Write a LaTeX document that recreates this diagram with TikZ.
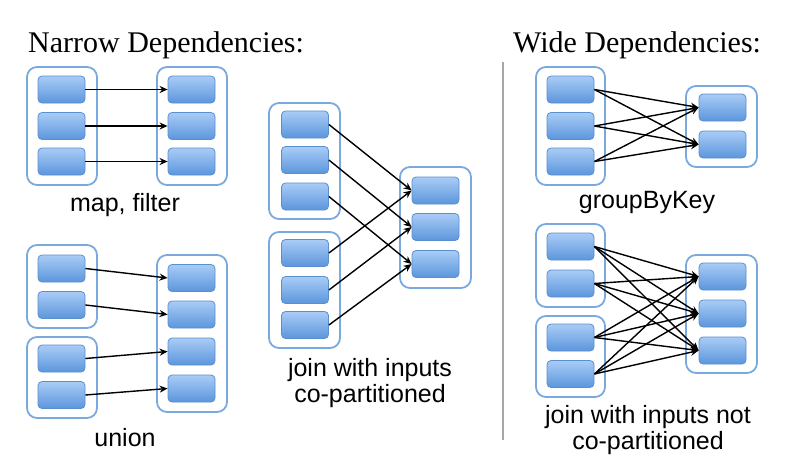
\documentclass[tikz,border=0pt]{standalone}
\usepackage{fontspec}
\setmainfont{Liberation Serif}
\newfontfamily\labelfont{Liberation Sans}
\usetikzlibrary{arrows.meta}

\definecolor{parttop}{HTML}{A9CCF6}
\definecolor{partbot}{HTML}{5C96DC}
\definecolor{partline}{HTML}{5A8FCE}
\definecolor{rddline}{HTML}{7AA9DE}

\begin{document}
\begin{tikzpicture}[x=1pt,y=-1pt]
\tikzset{part/.style={shape=rectangle,draw=partline,line width=0.8pt,rounded corners=4pt,top color=parttop,bottom color=partbot,minimum width=47pt,minimum height=27pt,inner sep=0pt}}
\tikzset{rdd/.style={shape=rectangle,draw=rddline,line width=1.8pt,rounded corners=10pt,fill=white,minimum width=70pt,inner sep=0pt}}
\tikzset{dep/.style={-{Stealth[length=8pt,width=7pt]},line width=1.4pt,black}}
\tikzset{caption/.style={font=\labelfont\fontsize{25}{26}\selectfont,align=center,inner sep=0pt}}
\tikzset{heading/.style={font=\fontsize{30}{32}\selectfont,anchor=west,inner sep=0pt}}
\useasboundingbox (0,0) rectangle (785,469);
%
\node at (28,45) [heading] (narrowtitle) {Narrow Dependencies:};
\node at (513,45) [heading] (widetitle) {Wide Dependencies:};
\coordinate (septop) at (503,62);
\coordinate (sepbot) at (503,440);
\draw[gray!70,line width=1.5pt] (septop) -- (sepbot);
%
% map, filter
\node at (62,126) [rdd,minimum height=118pt] (mapin) {};
\node at (192,126) [rdd,minimum height=118pt] (mapout) {};
\node at (61.5,89.5) [part] (mapin1) {};
\node at (61.5,126) [part] (mapin2) {};
\node at (61.5,161.5) [part] (mapin3) {};
\node at (191.5,89.5) [part] (mapout1) {};
\node at (191.5,126) [part] (mapout2) {};
\node at (191.5,161.5) [part] (mapout3) {};
\draw[dep] (mapin1) -- (mapout1);
\draw[dep] (mapin2) -- (mapout2);
\draw[dep] (mapin3) -- (mapout3);
\node at (125,205) [caption] (maplabel) {map, filter};
%
% union
\node at (62,286.5) [rdd,minimum height=83pt] (unionina) {};
\node at (62,377.5) [rdd,minimum height=81pt] (unioninb) {};
\node at (192,333.5) [rdd,minimum height=157pt] (unionout) {};
\node at (61.5,268.5) [part] (unionina1) {};
\node at (61.5,305) [part] (unionina2) {};
\node at (61.5,358.5) [part] (unioninb1) {};
\node at (61.5,395) [part] (unioninb2) {};
\node at (191.5,278) [part] (unionout1) {};
\node at (191.5,314.5) [part] (unionout2) {};
\node at (191.5,351.5) [part] (unionout3) {};
\node at (191.5,388.5) [part] (unionout4) {};
\draw[dep] (unionina1.east) -- (unionout1.west);
\draw[dep] (unionina2.east) -- (unionout2.west);
\draw[dep] (unioninb1.east) -- (unionout3.west);
\draw[dep] (unioninb2.east) -- (unionout4.west);
\node at (125,438) [caption] (unionlabel) {union};
%
% join with inputs co-partitioned
\node at (304.5,161) [rdd,minimum width=71pt,minimum height=116pt] (cojoina) {};
\node at (304.5,290) [rdd,minimum width=71pt,minimum height=116pt] (cojoinb) {};
\node at (435.5,227.5) [rdd,minimum width=71pt,minimum height=121pt] (cojoinout) {};
\node at (305,124.5) [part] (cojoina1) {};
\node at (305,160) [part] (cojoina2) {};
\node at (305,196.5) [part] (cojoina3) {};
\node at (305,253) [part] (cojoinb1) {};
\node at (305,290) [part] (cojoinb2) {};
\node at (305,325) [part] (cojoinb3) {};
\node at (435.5,190.5) [part] (cojoinout1) {};
\node at (435.5,227) [part] (cojoinout2) {};
\node at (435.5,264) [part] (cojoinout3) {};
\draw[dep] (cojoina1.east) -- (cojoinout1.west);
\draw[dep] (cojoina2.east) -- (cojoinout2.west);
\draw[dep] (cojoina3.east) -- (cojoinout3.west);
\draw[dep] (cojoinb1.east) -- (cojoinout1.west);
\draw[dep] (cojoinb2.east) -- (cojoinout2.west);
\draw[dep] (cojoinb3.east) -- (cojoinout3.west);
\node at (370,383) [caption] (cojoinlabel) {join with inputs\\co-partitioned};
%
% groupByKey
\node at (570.5,126) [rdd,minimum width=69pt,minimum height=118pt] (groupin) {};
\node at (721.5,126.5) [rdd,minimum width=71pt,minimum height=81pt] (groupout) {};
\node at (570.5,89.5) [part] (groupin1) {};
\node at (570.5,126) [part] (groupin2) {};
\node at (570.5,161.5) [part] (groupin3) {};
\node at (722.5,107.5) [part] (groupout1) {};
\node at (722.5,144.5) [part] (groupout2) {};
\draw[dep] (groupin1.east) -- (groupout1.west);
\draw[dep] (groupin1.east) -- (groupout2.west);
\draw[dep] (groupin2.east) -- (groupout1.west);
\draw[dep] (groupin2.east) -- (groupout2.west);
\draw[dep] (groupin3.east) -- (groupout1.west);
\draw[dep] (groupin3.east) -- (groupout2.west);
\node at (647,202) [caption] (grouplabel) {groupByKey};
%
% join with inputs not co-partitioned
\node at (570.5,265.5) [rdd,minimum width=69pt,minimum height=83pt] (joina) {};
\node at (570.5,356.5) [rdd,minimum width=69pt,minimum height=81pt] (joinb) {};
\node at (721.5,314) [rdd,minimum width=71pt,minimum height=118pt] (joinout) {};
\node at (570.5,246.5) [part] (joina1) {};
\node at (570.5,283.5) [part] (joina2) {};
\node at (570.5,337.5) [part] (joinb1) {};
\node at (570.5,374) [part] (joinb2) {};
\node at (722.5,276.5) [part] (joinout1) {};
\node at (722.5,313.5) [part] (joinout2) {};
\node at (722.5,350.5) [part] (joinout3) {};
\draw[dep] (joina1.east) -- (joinout1.west);
\draw[dep] (joina1.east) -- (joinout2.west);
\draw[dep] (joina1.east) -- (joinout3.west);
\draw[dep] (joina2.east) -- (joinout1.west);
\draw[dep] (joina2.east) -- (joinout2.west);
\draw[dep] (joina2.east) -- (joinout3.west);
\draw[dep] (joinb1.east) -- (joinout1.west);
\draw[dep] (joinb1.east) -- (joinout2.west);
\draw[dep] (joinb1.east) -- (joinout3.west);
\draw[dep] (joinb2.east) -- (joinout1.west);
\draw[dep] (joinb2.east) -- (joinout2.west);
\draw[dep] (joinb2.east) -- (joinout3.west);
\node at (648,430.5) [caption] (joinlabel) {join with inputs not\\co-partitioned};
\end{tikzpicture}
\end{document}
